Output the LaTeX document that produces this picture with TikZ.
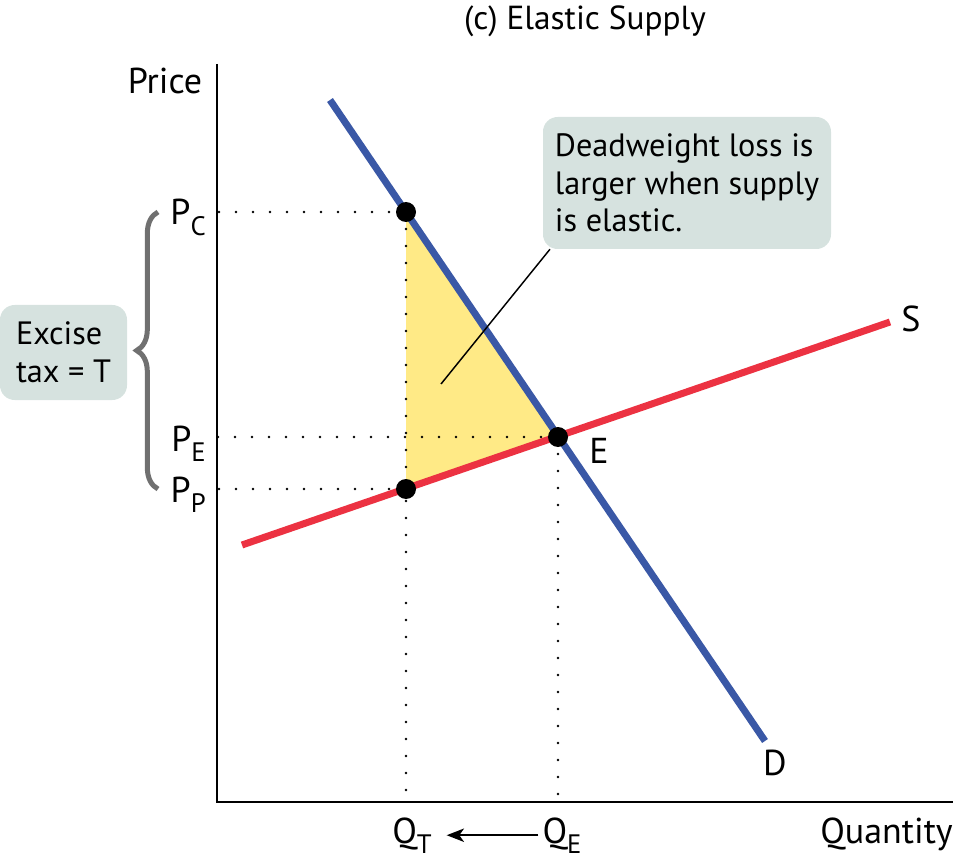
\documentclass[tikz,border=0pt]{standalone}
\usepackage{fontspec}
\setmainfont{PT Sans}
\usetikzlibrary{arrows.meta,calc,decorations.pathreplacing}

\definecolor{dblue}{RGB}{58,88,166}
\definecolor{sred}{RGB}{236,50,66}
\definecolor{lossyellow}{RGB}{255,234,134}
\definecolor{boxgray}{RGB}{214,226,223}
\definecolor{bracegray}{RGB}{112,112,112}

\newcommand{\LabelFont}{\fontsize{27}{32}\selectfont}
\newcommand{\TitleFont}{\fontsize{25}{30}\selectfont}
\newcommand{\BoxFont}{\fontsize{24.2}{28.1}\selectfont}
\newcommand{\Sub}[1]{\raisebox{-0.28em}{\fontsize{20}{20}\selectfont #1}}

\begin{document}
\begin{tikzpicture}
[
x=0.75pt, y=-0.75pt,
Axis/.style={draw=black, line width=1.5pt},
Demand/.style={draw=dblue, line width=5.25pt},
Supply/.style={draw=sred, line width=5.25pt},
Dotline/.style={draw=black, line width=2.1pt, line cap=round, dash pattern=on 0pt off 12.75pt},
Ball/.style={circle, fill=black, inner sep=0pt, minimum size=15pt},
Loss/.style={fill=lossyellow, draw=none},
Label/.style={font=\LabelFont, inner sep=0pt},
Note/.style={rectangle, rounded corners=11pt, fill=boxgray, font=\BoxFont, align=left, inner sep=0pt},
Brace/.style={decorate, decoration={brace, amplitude=16pt}, draw=bracegray, line width=3.75pt},
ShiftArrow/.style={-{Stealth[length=13pt, width=10pt, inset=3.5pt]}, line width=1.8pt, shorten <=3pt, shorten >=11pt},
Pointer/.style={draw=black, line width=1.1pt},
]

\useasboundingbox (0,0) rectangle (954,863);

% market points
\coordinate (origin) at (217,802);
\coordinate (dtop) at (330,100);
\coordinate (dbot) at (765,741);
\coordinate (sleft) at (242,545);
\coordinate (sright) at (890,322);
\coordinate (pc) at (406,212);
\coordinate (pe) at (558,437);
\coordinate (pp) at (406,489);

% deadweight loss
\fill[Loss] (pc) -- (pe) -- (pp) -- cycle;

\draw[Dotline] (pc) -- (pc -| origin);
\draw[Dotline] (pe) -- (pe -| origin);
\draw[Dotline] (pp) -- (pp -| origin);
\draw[Dotline] (pc) -- (pc |- origin);
\draw[Dotline] (pe) -- (pe |- origin);

\draw[Axis] (217,64) -- (origin) -- (953,802);

\draw[Supply] (sleft) -- (sright);
\draw[Demand] (dtop) -- (dbot);

\node[Ball] (ballc) at (pc) {};
\node[Ball] (balle) at (pe) {};
\node[Ball] (ballp) at (pp) {};

\node[Label, font=\TitleFont, anchor=base] (title) at (585,30) {(c) Elastic Supply};
\node[Label, anchor=base] (price) at (165,94) {Price};
\node[Label, anchor=base east] (quantity) at (953,843) {Quantity};

\node[Label, anchor=base east] (lpc) at (206,225) {P\Sub{C}};
\node[Label, anchor=base east] (lpe) at (206,451) {P\Sub{E}};
\node[Label, anchor=base east] (lpp) at (206,502) {P\Sub{P}};

\node[Label, anchor=base] (lqt) at (412,843) {Q\Sub{T}};
\node[Label, anchor=base] (lqe) at (562,843) {Q\Sub{E}};
\draw[ShiftArrow] (lqe) -- (lqt);

\node[Label, anchor=base west] (le) at (589,463) {E};
\node[Label, anchor=base west] (ls) at (901,331) {S};
\node[Label, anchor=base] (ld) at (775,775) {D};

\draw[Brace] (158,489) -- (158,212);
\node[Note, minimum width=95.25pt, minimum height=71.25pt] (tax) at (63.5,352.5) {Excise\\tax = T};

\node[Note, minimum width=216pt, minimum height=99pt] (callout) at (687,183)
  {Deadweight loss is\\larger when supply\\is elastic.};
\coordinate (lossspot) at (441,384);
\draw[Pointer] ($(callout.south west)!0.025!(callout.south east)$) -- (lossspot);

\end{tikzpicture}
\end{document}
